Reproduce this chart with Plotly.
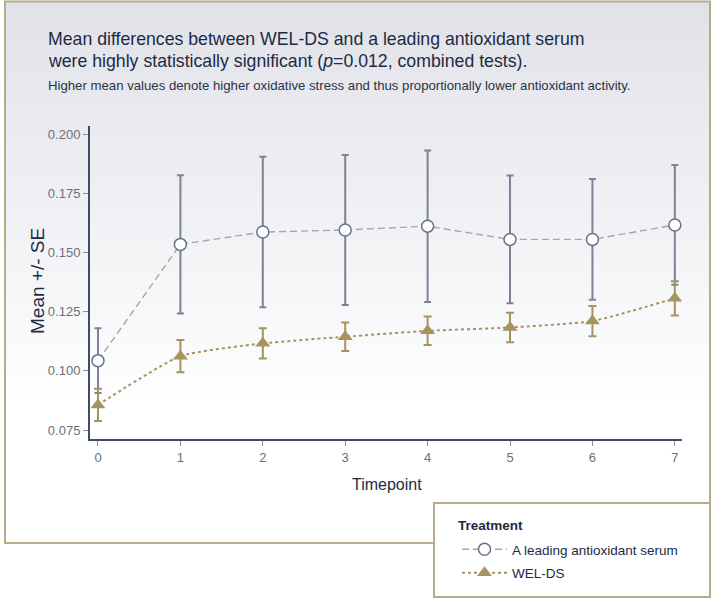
import plotly.graph_objects as go

timepoints = [0, 1, 2, 3, 4, 5, 6, 7]
serum_mean = [0.1043, 0.1534, 0.1586, 0.1595, 0.1611, 0.1555, 0.1555, 0.1616]
serum_se = [0.0137, 0.0292, 0.0318, 0.0317, 0.0320, 0.0270, 0.0255, 0.0253]
welds_mean = [0.0856, 0.1062, 0.1116, 0.1144, 0.1169, 0.1183, 0.1210, 0.1306]
welds_se = [0.0068, 0.0068, 0.0064, 0.0060, 0.0060, 0.0062, 0.0064, 0.0072]
y_ticks = [0.075, 0.100, 0.125, 0.150, 0.175, 0.200]

W, H = 715, 603
L, R, T, B = 90, 682, 126, 439
PW, PH = R - L, B - T


def px(x):
    return (x - L) / PW


def py(y):
    return (B - y) / PH


FONT = "Liberation Sans, Arial, Helvetica, sans-serif"
NAVY = "#1c2b45"
TAN = "#a6935f"
FRAME = "#b7ab88"

fig = go.Figure()

fig.add_trace(go.Scatter(
    x=timepoints, y=serum_mean, name="A leading antioxidant serum",
    mode="lines+markers", legendgroup="a",
    line=dict(color="#a4a6ad", width=1.4, dash="7px,4px"),
    marker=dict(symbol="circle", size=12, color="white",
                line=dict(color="#69728a", width=1.5)),
    error_y=dict(type="data", array=serum_se, visible=True,
                 color="#7c8397", thickness=2, width=3.5),
))
fig.add_trace(go.Scatter(
    x=timepoints, y=welds_mean, name="WEL-DS",
    mode="lines+markers", legendgroup="b",
    line=dict(color=TAN, width=2, dash="3px,3px", shape="spline", smoothing=0.5),
    marker=dict(symbol="triangle-up", size=13, color=TAN),
    error_y=dict(type="data", array=welds_se, visible=True,
                 color=TAN, thickness=2, width=4),
))

shapes = []
# gradient background inside frame
top_c = (225, 226, 233)
y0g, y1g = 2, 415
n = 60
for i in range(n):
    ya = y0g + (y1g - y0g) * i / n
    yb = y0g + (y1g - y0g) * (i + 1) / n + 0.5
    f = i / (n - 1)
    c = tuple(int(round(top_c[k] + (255 - top_c[k]) * f)) for k in range(3))
    shapes.append(dict(type="rect", xref="paper", yref="paper", layer="below",
                       x0=px(5), x1=px(710), y0=py(yb), y1=py(ya),
                       fillcolor="rgb(%d,%d,%d)" % c, line=dict(width=0)))
# outer frame
shapes.append(dict(type="rect", xref="paper", yref="paper", layer="below",
                   x0=px(5), x1=px(710), y0=py(543), y1=py(1.5),
                   fillcolor="rgba(0,0,0,0)", line=dict(color=FRAME, width=2)))
# legend box
shapes.append(dict(type="rect", xref="paper", yref="paper", layer="above",
                   x0=px(434), x1=px(710), y0=py(597), y1=py(503),
                   fillcolor="white", line=dict(color=FRAME, width=2)))

annotations = [
    dict(text="Mean differences between WEL-DS and a leading antioxidant serum",
         x=px(46), y=py(39), xref="paper", yref="paper", xanchor="left", yanchor="middle",
         align="left", showarrow=False,
         font=dict(family=FONT, size=17.7, color=NAVY)),
    dict(text="were highly statistically significant (<i>p</i>=0.012, combined tests).",
         x=px(46), y=py(61), xref="paper", yref="paper", xanchor="left", yanchor="middle",
         align="left", showarrow=False,
         font=dict(family=FONT, size=17.7, color=NAVY)),
    dict(text="Higher mean values denote higher oxidative stress and thus proportionally lower antioxidant activity.",
         x=px(46), y=py(86), xref="paper", yref="paper", xanchor="left", yanchor="middle",
         align="left", showarrow=False,
         font=dict(family=FONT, size=13.2, color="#2a3346")),
    dict(text="Mean +/- SE", x=px(37), y=py(281), xref="paper", yref="paper",
         textangle=-90, showarrow=False, xanchor="center", yanchor="middle",
         font=dict(family=FONT, size=19, color=NAVY)),
    dict(text="Timepoint", x=px(387), y=py(484), xref="paper", yref="paper",
         showarrow=False, xanchor="center", yanchor="middle",
         font=dict(family=FONT, size=16, color=NAVY)),
    dict(text="<b>Treatment</b>", x=px(456), y=py(525), xref="paper", yref="paper",
         showarrow=False, xanchor="left", yanchor="middle",
         font=dict(family=FONT, size=13.5, color=NAVY)),
]

fig.update_layout(
    width=W, height=H,
    margin=dict(l=L, r=W - R, t=T, b=H - B),
    paper_bgcolor="white", plot_bgcolor="rgba(0,0,0,0)",
    shapes=shapes, annotations=annotations,
    showlegend=True,
    legend=dict(x=px(457), y=py(534), xref="paper", yref="paper",
                xanchor="left", yanchor="top",
                bgcolor="rgba(0,0,0,0)", borderwidth=0,
                font=dict(family=FONT, size=13.5, color=NAVY),
                itemwidth=45, tracegroupgap=3),
    xaxis=dict(range=[-0.097, 7.087], tickvals=timepoints, showgrid=False, zeroline=False,
               showline=True, linecolor="#3e4c66", linewidth=2,
               ticks="outside", ticklen=5, tickcolor="#8a8f9c", tickwidth=1,
               tickfont=dict(family=FONT, size=13, color="#6b7080")),
    yaxis=dict(range=[0.0712, 0.2034], tickvals=y_ticks, tickformat=".3f",
               showgrid=False, zeroline=False,
               showline=True, linecolor="#3e4c66", linewidth=2,
               ticks="outside", ticklen=5, tickcolor="#8a8f9c", tickwidth=1,
               tickfont=dict(family=FONT, size=13, color="#6b7080")),
)

fig.write_html("out.html", config={"displayModeBar": False},
               post_script="document.body.style.margin='0';document.body.style.overflow='hidden';")
